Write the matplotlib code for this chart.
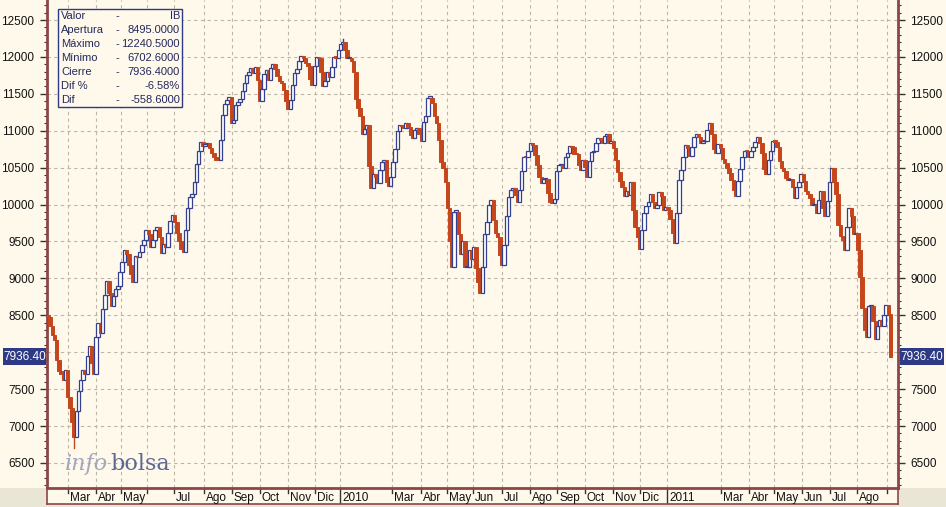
import matplotlib
matplotlib.use("Agg")
import matplotlib.pyplot as plt
from matplotlib.patches import Rectangle

# ---------------- data ----------------
first_open = 8495.0
closes_a = [8480, 8350, 8240, 8160, 7900, 7740, 7700, 7620, 7760, 7400, 7250, 7050, 6850, 7200,
            7480, 7620, 7760, 7700, 7950, 8080, 7850, 7700, 8200, 8400, 8260, 8580, 8780, 8960,
            8800, 8620, 8760, 8850, 8900, 9080, 9220, 9390, 9330, 9180, 9060, 8950, 9300, 9290,
            9360, 9450, 9520, 9650, 9600, 9430, 9520, 9650, 9700, 9560, 9340, 9470, 9430, 9610,
            9780, 9860, 9760, 9620, 9500, 9400, 9360, 9650, 9960, 10100, 10150, 10300, 10550,
            10730, 10850, 10790, 10820, 10830, 10760, 10700, 10640, 10610]
closes_b = [10600, 10870, 11220, 11360, 11420, 11460, 11100, 11140, 11350, 11390, 11430, 11540,
            11650, 11760, 11800, 11845, 11780, 11860, 11690, 11400, 11560, 11770, 11820, 11690,
            11850, 11900, 11830, 11740, 11680, 11640, 11550, 11400, 11300, 11420, 11620, 11780,
            11840, 11950, 12010, 11990, 11920, 11880, 11700, 11620, 11880, 12000, 11980, 11800,
            11610, 11680, 11790, 11730, 11870, 12000, 11990, 12090, 12180, 12200, 12100, 11980,
            11990, 11950, 11800, 11430, 11310, 11200, 10950, 11020, 11080, 10520, 10220, 10420,
            10380, 10290, 10470, 10580, 10600, 10300]
closes_c = [10250, 10380, 10580, 10750, 11000, 11077, 11060, 11040, 11100, 11050, 10940, 10900,
            11010, 11040, 10950, 10860, 11120, 11200, 11450, 11450, 11370, 11200, 11110, 10870,
            10570, 10500, 10300, 9950, 9500, 9160, 9900, 9900, 9600, 9330, 9500, 9150, 9150,
            9380, 9260, 9420, 9140, 8950, 8800, 9150, 9600, 9760, 10000, 10060, 9790, 9620,
            9560, 9320, 9180, 9450, 9850, 10107, 10200, 10230, 10130, 10040, 10200, 10450,
            10650, 10640, 10720, 10830, 10810, 10670, 10530, 10370, 10290, 10340, 10350, 10160,
            10030, 10020, 10080, 10450]
closes_d = [10530, 10536, 10490, 10650, 10700, 10790, 10780, 10690, 10680, 10540, 10470, 10600,
            10513, 10370, 10590, 10710, 10730, 10830, 10900, 10870, 10835, 10935, 10960, 10830,
            10860, 10760, 10600, 10440, 10320, 10240, 10110, 10190, 10130, 10300, 9930, 9700,
            9560, 9400, 9650, 9880, 9975, 10030, 10140, 10030, 9950, 10000, 10170, 10110, 9930,
            9970, 9920, 9800, 9620, 9480, 9880, 10330, 10470, 10650, 10810, 10760, 10660, 10780,
            10920, 10960, 10910, 10840, 10860, 10860, 11010, 11110, 10950, 10750, 10700, 10820,
            10770, 10620, 10560, 10490]
closes_e = [10430, 10330, 10200, 10110, 10320, 10480, 10650, 10730, 10720, 10640, 10720, 10780,
            10850, 10910, 10840, 10700, 10480, 10410, 10600, 10720, 10860, 10850, 10780, 10590,
            10490, 10450, 10360, 10330, 10340, 10240, 10090, 10240, 10310, 10420, 10320, 10190,
            10140, 10090, 9990, 10000, 9890, 10060, 10190, 9960, 9840, 10050, 10300, 10490,
            10300, 10150, 9720, 9570, 9520, 9390, 9700, 9960, 9850, 9600, 9620, 9380, 9020,
            8600, 8300, 8200, 8620, 8620, 8420, 8180, 8350, 8440, 8360, 8500, 8640, 8520, 7936.4]
closes = closes_a + closes_b + closes_c + closes_d + closes_e
opens = [first_open] + closes[:-1]

period_high = 12240.5
period_low = 6702.6

month_tick_idx = [9.2, 22.0, 33.4, 45.4, 57.7, 71.5, 84.3, 97.1, 109.9, 122.3, 133.8,
                  157.6, 170.9, 182.8, 194.7, 207.9, 220.8, 233.2, 246.0, 258.8, 271.2, 283.6,
                  308.3, 321.1, 332.6, 345.4, 358.2, 370.6, 384.3]
month_labels = ["Mar", "Abr", "May", "", "Jul", "Ago", "Sep", "Oct", "Nov", "Dic", "2010",
                "Mar", "Abr", "May", "Jun", "Jul", "Ago", "Sep", "Oct", "Nov", "Dic", "2011",
                "Mar", "Abr", "May", "Jun", "Jul", "Ago", ""]
year_labels = ["2010", "2011"]
y_ticks = list(range(6500, 13000, 500))
legend_names = ["Valor", "Apertura", "Máximo", "Mínimo", "Cierre", "Dif %", "Dif"]
legend_values = ["IB", "8495.0000", "12240.5000", "6702.6000", "7936.4000", "-6.58%", "-558.6000"]
last_label = "7936.40"
last_value = 7936.4

# ---------------- style ----------------
BG = "#FFF9EB"
GREY = "#E9E6D6"
RED = "#C5461C"
BLUE = "#34408E"
BROWN = "#8B4747"
GRID = "#BDB6A6"
NAVY = "#2E3A86"
TXT = "#111111"
FONT = "Liberation Sans"
FS = 8.5

W, H = 946, 507
fig = plt.figure(figsize=(W / 100, H / 100), dpi=100, facecolor=BG)

# grey strip at bottom
fig.patches.append(Rectangle((0, 0), 1, 19 / H, transform=fig.transFigure,
                             facecolor=GREY, edgecolor="none", zorder=-5))

ax = fig.add_axes([47 / W, 19 / H, 851 / W, 488 / H])
ax.set_facecolor(BG)
ax.set_xlim(-0.46, 389.4)
ax.set_ylim(6161, 12771)

# grid
for xv in month_tick_idx:
    ax.axvline(xv, color=GRID, lw=0.8, ls=(0, (3, 3)), zorder=1)
for yv in y_ticks:
    ax.axhline(yv, color=GRID, lw=0.8, ls=(0, (3, 3)), zorder=1)

# candles
bw = 1.6
imax = max(range(len(closes)), key=lambda k: max(opens[k], closes[k]))
imin = min(range(len(closes)), key=lambda k: min(opens[k], closes[k]))
for i, (o, c) in enumerate(zip(opens, closes)):
    lo, hi = min(o, c), max(o, c)
    h = max(hi - lo, 20)
    col = BLUE if c >= o else RED
    if i == imax:
        ax.plot([i, i], [hi, period_high], color=col, lw=1, zorder=2)
    if i == imin:
        ax.plot([i, i], [period_low, lo], color=col, lw=1, zorder=2)
    if c >= o:
        ax.add_patch(Rectangle((i - bw / 2, lo), bw, h, facecolor="white",
                               edgecolor=BLUE, lw=0.9, zorder=3))
    else:
        ax.add_patch(Rectangle((i - bw / 2, lo), bw, h, facecolor=RED,
                               edgecolor=RED, lw=0.7, zorder=3))

# axes styling
for s in ["top", "bottom"]:
    ax.spines[s].set_visible(False)
for s in ["left", "right"]:
    ax.spines[s].set_color(BROWN)
    ax.spines[s].set_linewidth(2)
ax.set_xticks([])
ax.set_yticks(y_ticks)
# the 8000 label is hidden behind the last-value box in the reference
ax.set_yticklabels(["" if v == 8000 else str(v) for v in y_ticks])
ax.set_yticks(range(6200, 12800, 100), minor=True)
ax.tick_params(axis="y", which="major", left=True, right=True, labelleft=True,
               labelright=True, direction="out", length=5, width=1, color="#333333",
               pad=4, labelsize=FS, labelcolor=TXT)
ax.tick_params(axis="y", which="minor", left=True, right=True, direction="out",
               length=2.5, width=0.8, color="#333333")
for lab in ax.get_yticklabels():
    lab.set_fontfamily(FONT)

# x band axis
ax2 = fig.add_axes([47 / W, 3 / H, 851 / W, 16 / H])
ax2.set_facecolor(BG)
ax2.set_xlim(-0.46, 389.4)
ax2.set_ylim(0, 1)
ax2.set_yticks([])
ax2.set_xticks([])
ax2.spines["top"].set_color(BROWN)
ax2.spines["top"].set_linewidth(2)
for s in ["bottom", "left", "right"]:
    ax2.spines[s].set_color(BROWN)
    ax2.spines[s].set_linewidth(1.2)
for xv, lab in zip(month_tick_idx, month_labels):
    if lab in year_labels:
        ax2.plot([xv, xv], [0, 1], color="#333333", lw=1)
    else:
        ax2.plot([xv, xv], [0.68, 1], color="#333333", lw=1)
    if lab:
        ax2.text(xv + 0.9, 0.40, lab, ha="left", va="center", fontsize=FS,
                 family=FONT, color=TXT)

# legend box
lx0, ly0, lx1, ly1 = 58, 9, 182, 107
fig.patches.append(Rectangle((lx0 / W, 1 - ly1 / H), (lx1 - lx0) / W, (ly1 - ly0) / H,
                             transform=fig.transFigure, facecolor=BG, edgecolor=NAVY,
                             lw=1, zorder=5))
for k, (nm, vv) in enumerate(zip(legend_names, legend_values)):
    yy = 1 - (16 + 14 * k) / H
    fig.text(61 / W, yy, nm, ha="left", va="center", fontsize=8, family=FONT,
             color="#23285E", zorder=6)
    fig.text(115 / W, yy, "-", ha="left", va="center", fontsize=8, family=FONT,
             color="#23285E", zorder=6)
    fig.text(180 / W, yy, vv, ha="right", va="center", fontsize=8, family=FONT,
             color="#23285E", zorder=6)

# last value boxes
yfrac = 19 / H + (last_value - 6161) / (12771 - 6161) * 488 / H
for x0, x1 in [(3, 46), (900, 944)]:
    fig.patches.append(Rectangle((x0 / W, yfrac - 8.5 / H), (x1 - x0) / W, 17 / H,
                                 transform=fig.transFigure, facecolor=NAVY,
                                 edgecolor="none", zorder=5))
    fig.text((x0 + x1) / 2 / W, yfrac, last_label, ha="center", va="center",
             fontsize=FS, family=FONT, color="white", zorder=6)

# watermark
fig.text(65 / W, 1 - 470 / H, "info", ha="left", va="baseline", fontsize=16,
         family="DejaVu Serif", style="italic", color="#A3A8BE", zorder=6)
fig.text(110 / W, 1 - 470 / H, "bolsa", ha="left", va="baseline", fontsize=16,
         family="DejaVu Serif", color="#5F6894", zorder=6)

fig.savefig("out.png", dpi=100, facecolor=BG)
